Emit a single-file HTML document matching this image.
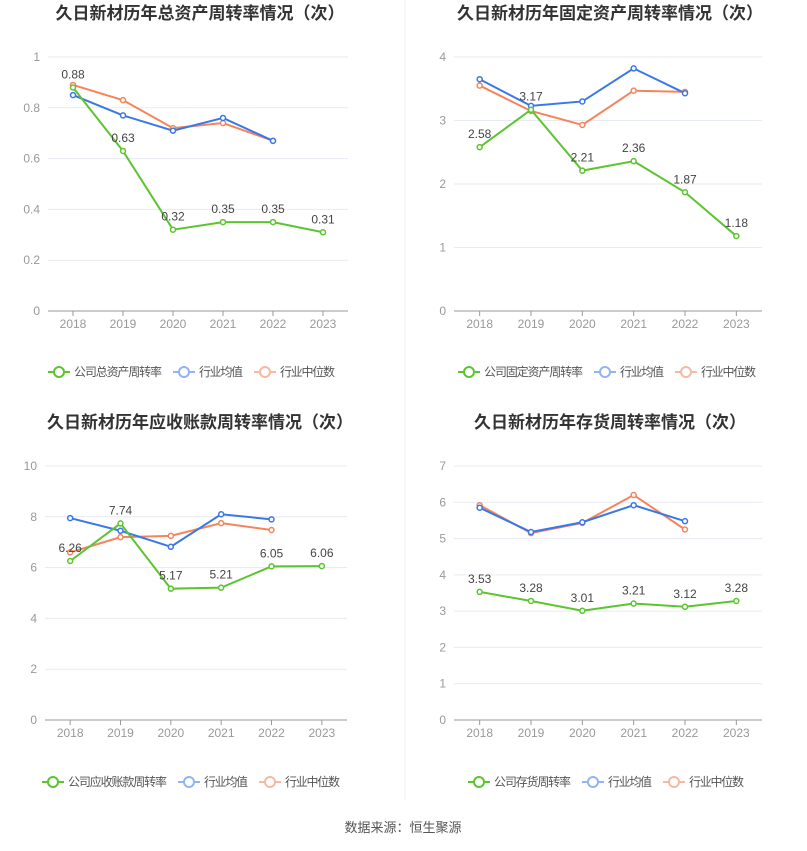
<!DOCTYPE html>
<html><head><meta charset="utf-8"><style>
body{margin:0;background:#fff;font-family:"Liberation Sans","Noto Sans CJK SC",sans-serif;}
svg text{font-family:"Liberation Sans","Noto Sans CJK SC",sans-serif;}
</style></head><body>
<svg id="s" width="807" height="846">
<line x1="405" y1="0" x2="405" y2="800" stroke="#f2f2f2"/>
<text x="403" y="832" text-anchor="middle" font-size="13" fill="#555">数据来源：恒生聚源</text>
</svg>
<script>
const years=['2018','2019','2020','2021','2022','2023'];
const c1Company=[0.88,0.63,0.32,0.35,0.35,0.31];
const c1Avg=[0.85,0.77,0.71,0.76,0.67];
const c1Median=[0.89,0.83,0.72,0.74,0.67];
const c1Ticks=[0,0.2,0.4,0.6,0.8,1];
const c2Company=[2.58,3.17,2.21,2.36,1.87,1.18];
const c2Avg=[3.65,3.23,3.30,3.82,3.43];
const c2Median=[3.55,3.15,2.93,3.47,3.45];
const c2Ticks=[0,1,2,3,4];
const c3Company=[6.26,7.74,5.17,5.21,6.05,6.06];
const c3Avg=[7.95,7.45,6.82,8.1,7.9];
const c3Median=[6.6,7.2,7.25,7.75,7.48];
const c3Ticks=[0,2,4,6,8,10];
const c4Company=[3.53,3.28,3.01,3.21,3.12,3.28];
const c4Avg=[5.85,5.18,5.45,5.92,5.48];
const c4Median=[5.92,5.15,5.43,6.2,5.25];
const c4Ticks=[0,1,2,3,4,5,6,7];

const NS='http://www.w3.org/2000/svg';
const svg=document.getElementById('s');
function mk(tag,attrs,parent){const e=document.createElementNS(NS,tag);for(const k in attrs)e.setAttribute(k,attrs[k]);(parent||svg).appendChild(e);return e;}
const G='#5cc42f',B='#3a78e8',O='#f5845b';
function chart(cfg){
  const g=mk('g',{});
  
  
  const t=mk('text',{x:cfg.cx,y:cfg.ty,'text-anchor':'middle','font-size':17,'font-weight':'bold',fill:'#333'},g);
  t.textContent=cfg.title;
  
  
  const max=cfg.ticks[cfg.ticks.length-1];
  const y=v=>cfg.bottom-(v/max)*(cfg.bottom-cfg.top);
  const step=(cfg.right-cfg.left)/years.length;
  const x=i=>cfg.left+step*(i+0.5);
  cfg.ticks.forEach(tv=>{
    if(tv>0){const l=mk('line',{x1:cfg.left,x2:cfg.right,y1:y(tv),y2:y(tv),stroke:'#e6eaf2'},g);
    }
    const tx=mk('text',{x:cfg.left-8,y:y(tv)+4,'text-anchor':'end','font-size':12,fill:'#999'},g);
    tx.textContent=tv;
    
    
  });
  const ax=mk('line',{x1:cfg.left,x2:cfg.right,y1:cfg.bottom,y2:cfg.bottom,stroke:'#999'},g);
  
  years.forEach((yr,i)=>{
    mk('line',{x1:x(i),x2:x(i),y1:cfg.bottom,y2:cfg.bottom+5,stroke:'#999'},g);
    const tx=mk('text',{x:x(i),y:cfg.bottom+17,'text-anchor':'middle','font-size':12,fill:'#999'},g);
    tx.textContent=yr;
    
    
  });
  function series(vals,color,name,labels){
    const p=mk('polyline',{points:vals.map((v,i)=>x(i)+','+y(v)).join(' '),fill:'none',stroke:color,'stroke-width':2},g);
    
    
    vals.forEach((v,i)=>{
      const c=mk('circle',{cx:x(i),cy:y(v),r:2.5,fill:'#fff',stroke:color,'stroke-width':1.5},g);
      
      
      if(labels){const tx=mk('text',{x:x(i),y:y(v)-9,'text-anchor':'middle','font-size':12,fill:'#444'},g);
        tx.textContent=v.toFixed(2);
        
        }
    });
  }
  series(cfg.median,O,'industry-median');
  series(cfg.avg,B,'industry-average');
  series(cfg.company,G,'company',true);
  let lx=cfg.lx;const ly=cfg.ly;
  [[cfg.legend,G],['行业均值','#93b4f2'],['行业中位数','#f9b9a0']].forEach(([txt,col])=>{
    const lg=mk('g',{},g);
    
    
    mk('line',{x1:lx,x2:lx+22,y1:ly,y2:ly,stroke:col,'stroke-width':2},lg);
    mk('circle',{cx:lx+11,cy:ly,r:5,fill:'#fff',stroke:col,'stroke-width':2},lg);
    const tx=mk('text',{x:lx+26,y:ly+4,'font-size':12,'textLength':txt.length*11,fill:'#555'},lg);
    tx.textContent=txt;
    lx+=26+txt.length*11+11;
  });
}
chart({name:'total-asset-turnover-chart',title:'久日新材历年总资产周转率情况（次）',cx:200,ty:19,left:48,right:348,top:57,bottom:311,ticks:c1Ticks,company:c1Company,avg:c1Avg,median:c1Median,legend:'公司总资产周转率',lx:48,ly:372});
chart({name:'fixed-asset-turnover-chart',title:'久日新材历年固定资产周转率情况（次）',cx:610,ty:19,left:454,right:762,top:57,bottom:311,ticks:c2Ticks,company:c2Company,avg:c2Avg,median:c2Median,legend:'公司固定资产周转率',lx:458,ly:372});
chart({name:'receivables-turnover-chart',title:'久日新材历年应收账款周转率情况（次）',cx:200,ty:428,left:45,right:347,top:466,bottom:720,ticks:c3Ticks,company:c3Company,avg:c3Avg,median:c3Median,legend:'公司应收账款周转率',lx:42,ly:782});
chart({name:'inventory-turnover-chart',title:'久日新材历年存货周转率情况（次）',cx:610,ty:428,left:454,right:762,top:466,bottom:720,ticks:c4Ticks,company:c4Company,avg:c4Avg,median:c4Median,legend:'公司存货周转率',lx:468,ly:782});
</script>
</body></html>
